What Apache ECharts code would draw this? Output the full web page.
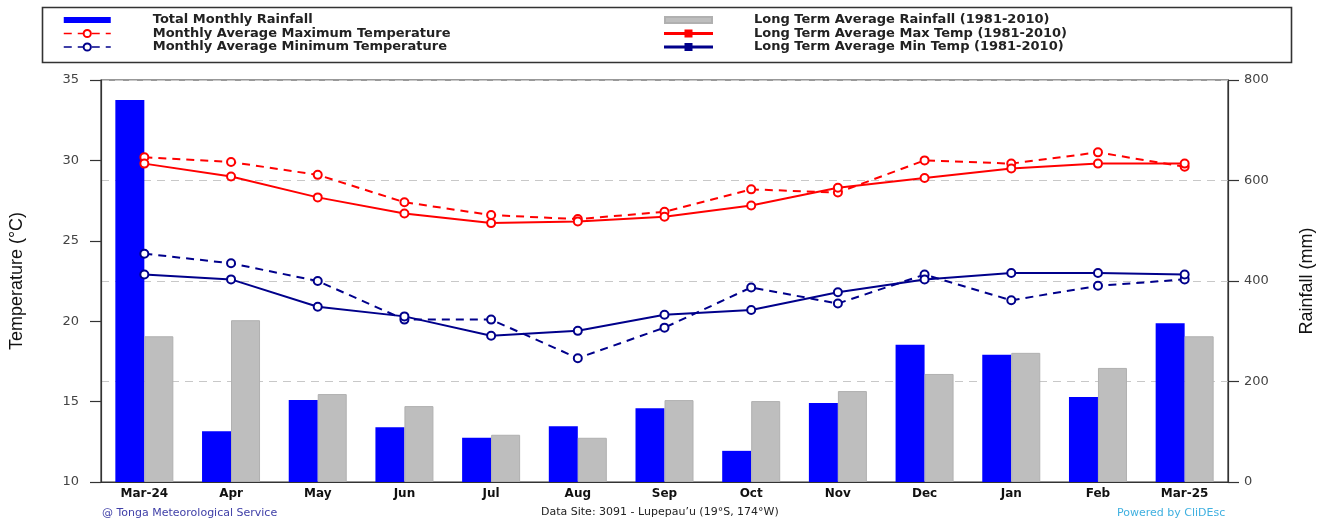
<!DOCTYPE html>
<html><head><meta charset="utf-8">
<script src="https://cdn.jsdelivr.net/npm/echarts@6/dist/echarts.min.js"></script>
<style>html,body{margin:0;padding:0;background:#fff}#c{width:1327px;height:522px}</style>
</head><body><div id="c"></div>
<script>
var months = ['Mar-24','Apr','May','Jun','Jul','Aug','Sep','Oct','Nov','Dec','Jan','Feb','Mar-25'];
var rainfall = [760,101,163,109,88,111,147,62,157,273,253,169,316];
var ltRainfall = [290,322,175,151,94,88,163,161,181,215,257,227,290];
var maxTemp = [30.2,29.9,29.1,27.4,26.6,26.35,26.8,28.2,28.0,30.0,29.8,30.5,29.6];
var ltMaxTemp = [29.8,29.0,27.7,26.7,26.1,26.2,26.5,27.2,28.3,28.9,29.5,29.8,29.8];
var minTemp = [24.2,23.6,22.5,20.1,20.1,17.7,19.6,22.1,21.1,22.9,21.3,22.2,22.6];
var ltMinTemp = [22.9,22.6,20.9,20.3,19.1,19.4,20.4,20.7,21.8,22.6,23.0,23.0,22.9];
var tempTicks = [10,15,20,25,30,35];
var rainTicks = [0,200,400,600,800];

var FONT = '"DejaVu Sans", Verdana, sans-serif';
var NAMEFONT = '"Liberation Sans", Arial, Helvetica, sans-serif';
var chart = echarts.init(document.getElementById('c'));
var legendText = {fontFamily: FONT, fontWeight: 'bold', fontSize: 13, color: '#222', padding: [0,0,0,37], lineHeight: 13};
var barIcon = 'path://M0,0L47,0L47,6L0,6Z';
var lineSquareIcon = 'path://M0,2.4L20.5,2.4L20.5,0L26.5,0L26.5,2.4L47,2.4L47,3.6L26.5,3.6L26.5,6L20.5,6L20.5,3.6L0,3.6Z';
function lineSeries(name, data, color, dashed) {
  return {
    name: name, type: 'line', yAxisIndex: 0, data: data,
    symbol: 'emptyCircle', symbolSize: 8,
    lineStyle: {color: color, width: 2, type: dashed ? [8, 6] : 'solid'},
    itemStyle: {color: color, borderColor: color, borderWidth: 2},
    emphasis: {disabled: true}, z: 5
  };
}
chart.setOption({
  animation: false,
  backgroundColor: '#fff',
  grid: {left: 101, right: 99, top: 80, bottom: 40, show: true, borderColor: '#333', borderWidth: 1.2, backgroundColor: 'transparent'},
  legend: [{
    orient: 'vertical', left: 63, top: 13.5, padding: 0, itemWidth: 47, itemHeight: 9, itemGap: 0.5,
    textStyle: legendText,
    lineStyle: {width: 1.5},
    data: [
      {name: 'Total Monthly Rainfall', icon: barIcon},
      {name: 'Monthly Average Maximum Temperature'},
      {name: 'Monthly Average Minimum Temperature'}
    ]
  }, {
    orient: 'vertical', left: 664, top: 13.5, padding: 0, itemWidth: 47, itemHeight: 9, itemGap: 0.5,
    textStyle: legendText,
    data: [
      {name: 'Long Term Average Rainfall (1981-2010)', icon: barIcon},
      {name: 'Long Term Average Max Temp (1981-2010)', icon: lineSquareIcon},
      {name: 'Long Term Average Min Temp (1981-2010)', icon: lineSquareIcon}
    ]
  }],
  xAxis: {
    type: 'category', data: months, boundaryGap: true,
    axisLine: {show: true, lineStyle: {color: '#333', width: 1.2}},
    axisTick: {show: false},
    axisLabel: {fontFamily: FONT, fontWeight: 'bold', fontSize: 12, color: '#111', margin: 6}
  },
  yAxis: [{
    type: 'value', min: tempTicks[0], max: tempTicks[tempTicks.length-1], interval: 5, position: 'left',
    name: 'Temperature (°C)', nameLocation: 'middle', nameRotate: 90, nameGap: 75,
    nameTextStyle: {fontFamily: NAMEFONT, fontSize: 18, color: '#111'},
    axisLine: {show: true, lineStyle: {color: '#333', width: 1.2}},
    axisTick: {show: true, inside: false, length: 11, lineStyle: {color: '#333', width: 1.2}},
    axisLabel: {fontFamily: FONT, fontSize: 13, color: '#444', margin: 22},
    splitLine: {show: false}
  }, {
    type: 'value', min: rainTicks[0], max: rainTicks[rainTicks.length-1], interval: 200, position: 'right',
    name: 'Rainfall (mm)', nameLocation: 'middle', nameRotate: 90, nameGap: 70,
    nameTextStyle: {fontFamily: NAMEFONT, fontSize: 18, color: '#111'},
    axisLine: {show: true, lineStyle: {color: '#333', width: 1.2}},
    axisTick: {show: true, inside: false, length: 11, lineStyle: {color: '#333', width: 1.2}},
    axisLabel: {fontFamily: FONT, fontSize: 13, color: '#444', margin: 16},
    splitLine: {show: true, lineStyle: {color: '#c8c8c8', width: 1.2, type: [8, 6]}}
  }],
  series: [
    {name: 'Total Monthly Rainfall', type: 'bar', yAxisIndex: 1, data: rainfall, barWidth: 29, barGap: '0%',
     itemStyle: {color: '#0000ff'}, emphasis: {disabled: true}, z: 2},
    {name: 'Long Term Average Rainfall (1981-2010)', type: 'bar', yAxisIndex: 1, data: ltRainfall, barWidth: 29, barGap: '0%',
     itemStyle: {color: '#bebebe', borderColor: '#b0b0b0', borderWidth: 1}, emphasis: {disabled: true}, z: 2},
    lineSeries('Monthly Average Maximum Temperature', maxTemp, '#ff0000', true),
    lineSeries('Monthly Average Minimum Temperature', minTemp, '#00008b', true),
    lineSeries('Long Term Average Max Temp (1981-2010)', ltMaxTemp, '#ff0000', false),
    lineSeries('Long Term Average Min Temp (1981-2010)', ltMinTemp, '#00008b', false)
  ],
  graphic: [
    {type: 'rect', left: 40, top: 5, shape: {width: 1249, height: 55}, style: {fill: 'none', stroke: '#333', lineWidth: 1.6}, silent: true},
    {type: 'text', left: 102, top: 508, style: {text: '@ Tonga Meteorological Service', font: '11px ' + FONT, fill: '#4040a8'}},
    {type: 'text', left: 541, top: 507, style: {text: 'Data Site: 3091 - Lupepau\u2019u (19°S, 174°W)', font: '11px ' + FONT, fill: '#222'}},
    {type: 'text', left: 1117, top: 508, style: {text: 'Powered by CliDEsc', font: '11px ' + FONT, fill: '#3fb0e0'}}
  ]
});
</script></body></html>
